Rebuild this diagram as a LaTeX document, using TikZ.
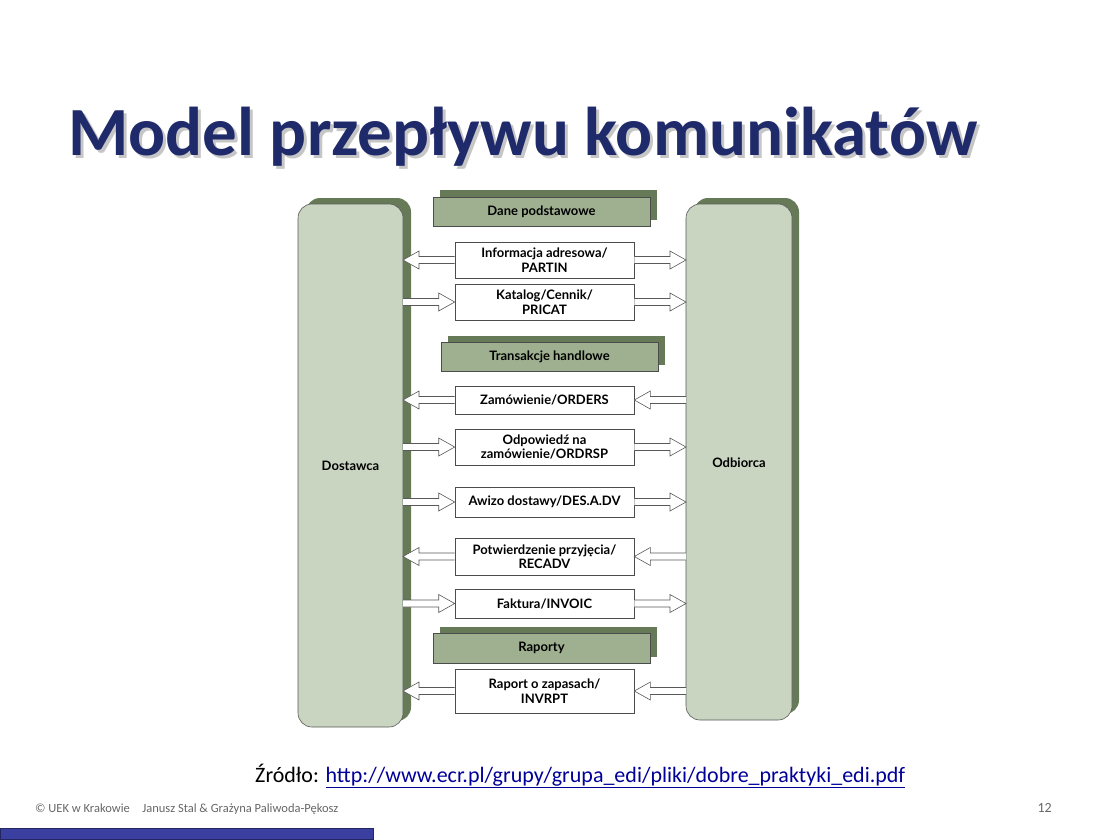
\documentclass[tikz,border=0pt]{standalone}
\usepackage{fontspec}
\setmainfont{Carlito}
\newfontfamily\boxfont{Lato}
\usetikzlibrary{calc}
\definecolor{front}{HTML}{C9D5C1}
\definecolor{shade}{HTML}{667A58}
\definecolor{hdr}{HTML}{9FB090}
\definecolor{navy}{HTML}{1F2A6B}
\definecolor{bar}{HTML}{3B3FA0}
\tikzset{
  party/.style={draw=gray!70!black, fill=front, rounded corners=14pt, line width=0.6pt},
  partyshadow/.style={fill=shade, rounded corners=14pt},
  hdrbox/.style={draw=gray!60!black, fill=hdr, line width=0.6pt},
  hdrshadow/.style={fill=shade},
  msg/.style={draw=gray!60!black, fill=white, line width=0.6pt, align=center, font=\boxfont\bfseries\fontsize{13}{14.5}\selectfont, inner sep=0pt},
  flowline/.style={draw=gray!70!black, fill=white, line width=0.6pt},
  lbl/.style={font=\boxfont\bfseries\fontsize{13}{14.5}\selectfont, inner sep=0pt}
}
\newcommand\flowarrow[2]{%
  \fill[white] ($(#1)+(0,3.5)$) -- ($(#2)!16pt!(#1)+(0,3.5)$) -- ($(#2)!16pt!(#1)+(0,9)$) -- (#2)
     -- ($(#2)!16pt!(#1)+(0,-9)$) -- ($(#2)!16pt!(#1)+(0,-3.5)$) -- ($(#1)+(0,-3.5)$) -- cycle;
  \draw[flowline, fill=none] ($(#1)+(0,3.5)$) -- ($(#2)!16pt!(#1)+(0,3.5)$) -- ($(#2)!16pt!(#1)+(0,9)$) -- (#2)
     -- ($(#2)!16pt!(#1)+(0,-9)$) -- ($(#2)!16pt!(#1)+(0,-3.5)$) -- ($(#1)+(0,-3.5)$);}
\begin{document}
\begin{tikzpicture}[x=1pt,y=-1pt]
\useasboundingbox (0,0) rectangle (1118,839);
% title
\node[anchor=base west, font=\bfseries\fontsize{69}{72}\selectfont, text=gray!45, inner sep=0pt] (tshadow) at (71,158) {Model przepływu komunikatów};
\node[anchor=base west, font=\bfseries\fontsize{69}{72}\selectfont, text=navy, inner sep=0pt] (title) at (68,155) {Model przepływu komunikatów};
% parties
\fill[partyshadow] (306,198) rectangle (411,721);
\draw[party] (298,204) rectangle (403,727);
\node[lbl] (dost) at (350.5,466) {Dostawca};
\fill[partyshadow] (694,198) rectangle (799,714);
\draw[party] (686,204) rectangle (792,720);
\node[lbl] (odb) at (739,463) {Odbiorca};
% headers
\fill[hdrshadow] (440,190) rectangle (657,220);
\draw[hdrbox] (433,197) rectangle (650,226);
\node[lbl] (h1) at (541.5,211.5) {Dane podstawowe};
\fill[hdrshadow] (448,336) rectangle (665,365);
\draw[hdrbox] (441,342) rectangle (658,371);
\node[lbl] (h2) at (549.5,356.5) {Transakcje handlowe};
\fill[hdrshadow] (440,627) rectangle (657,657);
\draw[hdrbox] (433,633) rectangle (650,663);
\node[lbl] (h3) at (541.5,648) {Raporty};
% messages
\node[msg, minimum width=179pt, minimum height=36pt] (m1) at (544.5,260) {Informacja adresowa/\\PARTIN};
\node[msg, minimum width=179pt, minimum height=36pt] (m2) at (544.5,302) {Katalog/Cennik/\\PRICAT};
\node[msg, minimum width=179pt, minimum height=28pt] (m3) at (544.5,400) {Zamówienie/ORDERS};
\node[msg, minimum width=179pt, minimum height=36pt] (m4) at (544.5,447) {Odpowiedź na\\zamówienie/ORDRSP};
\node[msg, minimum width=179pt, minimum height=30pt] (m5) at (544.5,502) {Awizo dostawy/DES.A.DV};
\node[msg, minimum width=179pt, minimum height=37pt] (m6) at (544.5,556.5) {Potwierdzenie przyjęcia/\\RECADV};
\node[msg, minimum width=179pt, minimum height=29pt] (m7) at (544.5,603.5) {Faktura/INVOIC};
\node[msg, minimum width=179pt, minimum height=44pt] (m8) at (544.5,691) {Raport o zapasach/\\INVRPT};
\foreach \m in {m1,m2,m3,m4,m5,m6,m7,m8}{
  \coordinate (L\m) at (403,0 |- \m);
  \coordinate (R\m) at (686,0 |- \m);
  \coordinate (W\m) at (\m.west);
  \coordinate (E\m) at (\m.east);
}
\flowarrow{Wm1}{Lm1}
\flowarrow{Em1}{Rm1}
\flowarrow{Lm2}{Wm2}
\flowarrow{Em2}{Rm2}
\flowarrow{Wm3}{Lm3}
\flowarrow{Rm3}{Em3}
\flowarrow{Lm4}{Wm4}
\flowarrow{Em4}{Rm4}
\flowarrow{Lm5}{Wm5}
\flowarrow{Em5}{Rm5}
\flowarrow{Wm6}{Lm6}
\flowarrow{Rm6}{Em6}
\flowarrow{Lm7}{Wm7}
\flowarrow{Em7}{Rm7}
\flowarrow{Wm8}{Lm8}
\flowarrow{Rm8}{Em8}
% source
\node[anchor=base west, inner sep=0pt, font=\fontsize{22}{24}\selectfont] (src) at (255,782) {Źródło: \textcolor{blue!60!black}{\underline{http://www.ecr.pl/grupy/grupa\_edi/pliki/dobre\_praktyki\_edi.pdf}}};
% footer
\node[anchor=base west, inner sep=0pt, font=\fontsize{12.5}{14}\selectfont, text=gray!80!black] (foot) at (35,812) {© UEK w Krakowie\quad Janusz Stal \& Grażyna Paliwoda-Pękosz};
\node[anchor=base east, inner sep=0pt, font=\fontsize{14}{16}\selectfont, text=gray!80!black] (page) at (1052,812) {12};
\draw[fill=bar, draw=bar!60!black] (0,828) rectangle (373,839);
\end{tikzpicture}
\end{document}
